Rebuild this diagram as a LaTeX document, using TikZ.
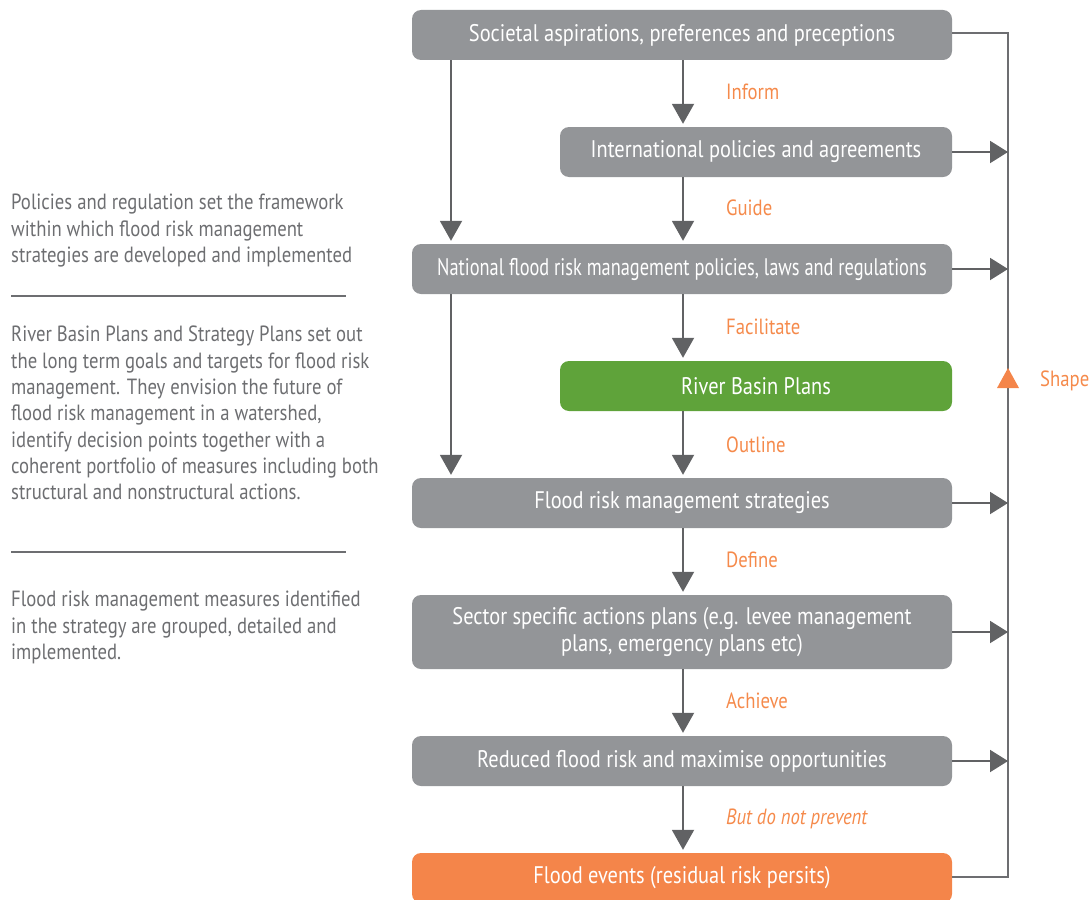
\documentclass[tikz,border=0pt]{standalone}
\usepackage{graphicx}
\usepackage{fontspec}
\setmainfont[FakeStretch=0.85]{PT Sans}
\usetikzlibrary{arrows.meta}
\definecolor{boxgrey}{HTML}{939598}
\definecolor{boxgreen}{HTML}{5FA33A}
\definecolor{boxorange}{HTML}{F4854A}
\definecolor{lblorange}{HTML}{F58A4B}
\definecolor{arrgrey}{HTML}{616264}
\definecolor{txtgrey}{HTML}{6D6E71}
\tikzset{
  box/.style={fill=boxgrey, rounded corners=9pt, text=white, inner sep=0pt,
    align=center, font=\fontsize{24}{27}\selectfont, minimum height=50pt},
  wide/.style={minimum width=540pt},
  narrow/.style={minimum width=392pt},
  arr/.style={draw=arrgrey, line width=2pt, shorten >=3pt,
    -{Triangle[width=22pt,length=20pt]}},
  rarr/.style={draw=arrgrey, line width=2pt,
    -{Triangle[width=22pt,length=18pt]}},
  bracket/.style={draw=txtgrey, line width=2pt},
  lbl/.style={text=lblorange, anchor=west, inner sep=0pt, font=\fontsize{22}{25}\selectfont},
  para/.style={text=txtgrey, anchor=north west, inner sep=0pt, align=left,
    font=\fontsize{22}{26.3}\selectfont},
  sep/.style={draw=txtgrey, line width=1.2pt}
}
\begin{document}
\begin{tikzpicture}[x=1pt,y=-1pt]
\useasboundingbox (0,0) rectangle (1091,899);
\coordinate (cx) at (683,0);
\coordinate (lx) at (451,0);
\coordinate (rx) at (1008,0);
% boxes
\node[box,wide] (b1) at (682,35) {Societal aspirations, preferences and preceptions};
\node[box,narrow] (b2) at (756,152) {International policies and agreements};
\node[box,wide] (b3) at (682,269) {\scalebox{0.9}[1]{National flood risk management policies, laws and regulations}};
\node[box,narrow,fill=boxgreen] (b4) at (756,386) {River Basin Plans};
\node[box,wide] (b5) at (682,503) {Flood risk management strategies};
\node[box,wide,minimum height=74pt] (b6) at (682,632) {Sector specific actions plans (e.g. levee management\\plans, emergency plans etc)};
\node[box,wide] (b7) at (682,761) {Reduced flood risk and maximise opportunities};
\node[box,wide,fill=boxorange] (b8) at (682,878) {Flood events (residual risk persits)};
% central arrows
\draw[arr] (b1.south -| cx) -- (b2.north -| cx);
\draw[arr] (b2.south -| cx) -- (b3.north -| cx);
\draw[arr] (b3.south -| cx) -- (b4.north -| cx);
\draw[arr] (b4.south -| cx) -- (b5.north -| cx);
\draw[arr] (b5.south -| cx) -- (b6.north -| cx);
\draw[arr] (b6.south -| cx) -- (b7.north -| cx);
\draw[arr] (b7.south -| cx) -- (b8.north -| cx);
% left arrows
\draw[arr] (b1.south -| lx) -- (b3.north -| lx);
\draw[arr] (b3.south -| lx) -- (b5.north -| lx);
% labels
\node[lbl] (l1) at (726,92) {Inform};
\node[lbl] (l2) at (726,208) {Guide};
\node[lbl] (l3) at (726,327) {Facilitate};
\node[lbl] (l4) at (726,445) {Outline};
\node[lbl] (l5) at (726,560) {Define};
\node[lbl] (l6) at (726,701) {Achieve};
\node[lbl,font=\fontsize{22}{25}\selectfont\itshape] (l7) at (726,819) {But do not prevent};
% right bracket
\draw[bracket] (b1.east |- 0,33) -- (rx |- 0,33) -- (rx |- 0,877) -- (b8.east |- 0,877);
\draw[rarr] (b2.east) -- (b2.east -| rx);
\draw[rarr] (b3.east) -- (b3.east -| rx);
\draw[rarr] (b5.east) -- (b5.east -| rx);
\draw[rarr] (b6.east) -- (b6.east -| rx);
\draw[rarr] (b7.east) -- (b7.east -| rx);
\fill[boxorange] (997,388) -- (1019,388) -- (1008,368) -- cycle;
\node[lbl] (shape) at (1040,381) {Shape};
% left paragraphs
\node[para] (p1) at (11,194) {Policies and regulation set the framework\\within which flood risk management\\strategies are developed and implemented};
\draw[sep] (11,296) -- (346,296);
\node[para] (p2) at (11,326) {River Basin Plans and Strategy Plans set out\\the long term goals and targets for flood risk\\management. They envision the future of\\flood risk management in a watershed,\\identify decision points together with a\\coherent portfolio of measures including both\\structural and nonstructural actions.};
\draw[sep] (11,552) -- (346,552);
\node[para] (p3) at (11,591) {Flood risk management measures identified\\in the strategy are grouped, detailed and\\implemented.};
\end{tikzpicture}
\end{document}
